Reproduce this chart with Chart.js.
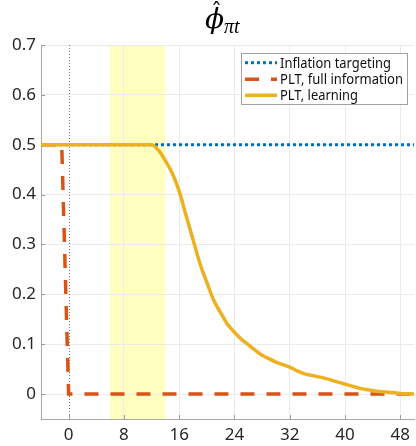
<!DOCTYPE html>
<html><head><meta charset="utf-8">
<script src="https://cdn.jsdelivr.net/npm/chart.js@4/dist/chart.umd.min.js"></script>
<style>html,body{margin:0;padding:0;background:#fff}#wrap{width:416px;height:446px;position:relative}</style>
</head><body><div id="wrap"><canvas id="c" width="416" height="446"></canvas></div>
<script>
const periods = [-4,-3,-2,-1,0,1,2,3,4,5,6,7,8,9,10,11,12,13,14,15,16,17,18,19,20,21,22,23,24,25,26,27,28,29,30,31,32,33,34,35,36,37,38,39,40,41,42,43,44,45,46,47,48,49,50];
const inflationTargeting = [0.5,0.5,0.5,0.5,0.5,0.5,0.5,0.5,0.5,0.5,0.5,0.5,0.5,0.5,0.5,0.5,0.5,0.5,0.5,0.5,0.5,0.5,0.5,0.5,0.5,0.5,0.5,0.5,0.5,0.5,0.5,0.5,0.5,0.5,0.5,0.5,0.5,0.5,0.5,0.5,0.5,0.5,0.5,0.5,0.5,0.5,0.5,0.5,0.5,0.5,0.5,0.5,0.5,0.5,0.5];
const pltFullInfo = [0.5,0.5,0.5,0.5,0,0,0,0,0,0,0,0,0,0,0,0,0,0,0,0,0,0,0,0,0,0,0,0,0,0,0,0,0,0,0,0,0,0,0,0,0,0,0,0,0,0,0,0,0,0,0,0,0,0,0];
const pltLearning = [0.5,0.5,0.5,0.5,0.5,0.5,0.5,0.5,0.5,0.5,0.5,0.5,0.5,0.5,0.5,0.5,0.5,
  0.489,0.468,0.443,0.407,0.358,0.310,0.262,0.224,0.188,0.163,0.140,0.124,0.110,0.099,0.088,0.078,0.071,0.064,0.059,0.054,0.047,0.041,0.038,0.035,0.032,0.028,0.024,0.020,0.016,0.012,0.009,0.007,0.005,0.004,0.003,0.001,0.0005,0];
const seriesNames = ['Inflation targeting','PLT, full information','PLT, learning'];
const xTickValues = [0,8,16,24,32,40,48];
const yTickValues = [0,0.1,0.2,0.3,0.4,0.5,0.6,0.7];
const shadeRange = [6,14];

const BLUE='#0072BD', RED='#D95319', YEL='#EDB120';
const toXY = arr => arr.map((v,i)=>({x:periods[i],y:v}));

const deco = {
  id:'deco',
  beforeDraw(chart){
    const {ctx,chartArea:a,scales:{x}}=chart;
    ctx.save();
    ctx.fillStyle='#FFFFC0';
    const x0=x.getPixelForValue(shadeRange[0]), x1=x.getPixelForValue(shadeRange[1]);
    ctx.fillRect(x0,a.top,x1-x0,a.bottom-a.top);
    ctx.restore();
  },
  beforeDatasetsDraw(chart){
    const {ctx,chartArea:a,scales:{x,y}}=chart;
    ctx.save();
    const xz=Math.round(x.getPixelForValue(0))+0.5;
    ctx.strokeStyle='#555'; ctx.lineWidth=0.8; ctx.setLineDash([1,2]);
    ctx.beginPath(); ctx.moveTo(xz,a.top); ctx.lineTo(xz,a.bottom); ctx.stroke();
    ctx.setLineDash([]);
    ctx.strokeStyle='#9a9a9a'; ctx.lineWidth=1;
    xTickValues.forEach(v=>{const px=Math.round(x.getPixelForValue(v))+0.5;ctx.beginPath();ctx.moveTo(px,a.bottom);ctx.lineTo(px,a.bottom-4);ctx.stroke();});
    yTickValues.forEach(v=>{const py=Math.round(y.getPixelForValue(v))+0.5;ctx.beginPath();ctx.moveTo(a.left,py);ctx.lineTo(a.left+4,py);ctx.stroke();});
    ctx.restore();
  },
  afterDraw(chart){
    const {ctx}=chart;
    ctx.save();
    const bx=241, by=53, bw=166, bh=51;
    ctx.fillStyle='#fff'; ctx.fillRect(bx,by,bw,bh);
    ctx.strokeStyle='#a0a0a0'; ctx.lineWidth=1; ctx.strokeRect(bx+0.5,by+0.5,bw,bh);
    const rows=[62.7,79.3,95.3];
    const ds=chart.data.datasets;
    const order=[2,1,0];
    ctx.font='14.5px "Noto Sans"'; ctx.textBaseline='middle'; ctx.fillStyle='#111';
    order.forEach((di,k)=>{
      const d=ds[di]; const ry=rows[k];
      ctx.strokeStyle=d.borderColor; ctx.lineWidth=d.borderWidth; ctx.setLineDash(d.borderDash||[]);
      ctx.beginPath(); ctx.moveTo(245,ry); ctx.lineTo(277,ry); ctx.stroke();
      ctx.setLineDash([]);
      const t=d.label; const w=ctx.measureText(t).width; const target=[111,123,78][k];
      ctx.save(); ctx.translate(280,ry); ctx.scale(Math.min(1,target/w),1); ctx.fillText(t,0,1); ctx.restore();
    });
    ctx.fillStyle='#000'; ctx.textBaseline='alphabetic'; ctx.textAlign='left';
    ctx.font='italic 28px "DejaVu Serif"';
    ctx.fillText('ϕ',205,28);
    ctx.font='22px "DejaVu Serif"';
    ctx.fillText('ˆ',211,19);
    ctx.font='italic 20px "Liberation Serif"';
    ctx.fillText('πt',224,33);
    ctx.restore();
  }
};

new Chart(document.getElementById('c'),{
  type:'line',
  data:{datasets:[
    {label:seriesNames[2],data:toXY(pltLearning),borderColor:YEL,borderWidth:3.5,pointRadius:0,cubicInterpolationMode:'monotone',order:1},
    {label:seriesNames[1],data:toXY(pltFullInfo),borderColor:RED,borderWidth:3.5,borderDash:[14,12],pointRadius:0,tension:0,order:2},
    {label:seriesNames[0],data:toXY(inflationTargeting),borderColor:BLUE,borderWidth:3,borderDash:[3,3],pointRadius:0,tension:0,order:3}
  ]},
  options:{
    responsive:false,animation:false,
    layout:{padding:{top:45,right:0,left:0,bottom:0}},
    plugins:{legend:{display:false},tooltip:{enabled:false},title:{display:false}},
    scales:{
      x:{type:'linear',min:-4,max:50,
        afterBuildTicks:s=>{s.ticks=xTickValues.map(v=>({value:v}));},
        afterFit:s=>{s.height=27;},
        grid:{color:c=>c.tick&&c.tick.value===0?'rgba(0,0,0,0)':'#ebebeb',drawTicks:false},
        border:{color:'#a8a8a8'},
        ticks:{font:{size:17,family:'"Noto Sans"'},color:'#262626',padding:6,maxRotation:0,callback:v=>String(v)}},
      y:{type:'linear',min:-0.05,max:0.7,
        afterBuildTicks:s=>{s.ticks=yTickValues.map(v=>({value:v}));},
        afterFit:s=>{s.width=41;},
        grid:{color:'#ebebeb',drawTicks:false},
        border:{color:'#a8a8a8'},
        ticks:{font:{size:17,family:'"Noto Sans"'},color:'#262626',padding:5,callback:v=>v===0?'0':Number(v).toFixed(1)}}
    }
  },
  plugins:[deco]
});
</script></body></html>
